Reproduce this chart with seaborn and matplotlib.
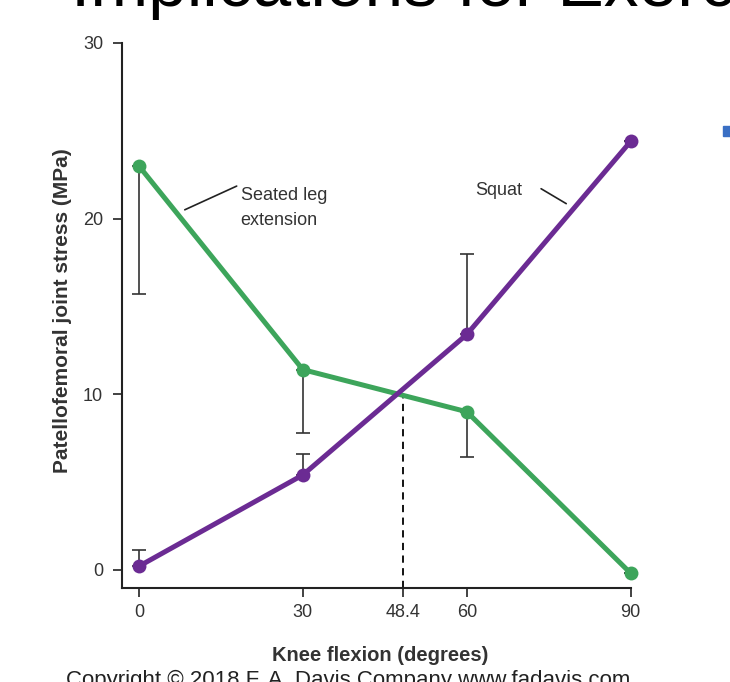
import matplotlib
matplotlib.use("Agg")
import matplotlib.pyplot as plt
import seaborn as sns
import pandas as pd
from matplotlib.patches import Rectangle

# knee flexion angles (degrees)
angles = [0, 30, 60, 90]

# patellofemoral joint stress (MPa)
leg_ext = [23.0, 11.4, 9.0, -0.2]
leg_ext_err = [7.3, 3.6, 2.6, 0.0]      # bars drawn downward
squat = [0.2, 5.4, 13.4, 24.4]
squat_err = [0.9, 1.2, 4.6, 0.0]        # bars drawn upward

crossover = 48.4
cross_stress = 10.0

x_ticks = [0, 30, 48.4, 60, 90]
x_tick_labels = ["0", "30", "48.4", "60", "90"]
y_ticks = [0, 10, 20, 30]

green = "#3da55b"
purple = "#6b2b93"
ink = "#333333"

df = pd.DataFrame({
    "angle": angles * 2,
    "stress": leg_ext + squat,
    "exercise": ["Seated leg extension"] * 4 + ["Squat"] * 4,
})

sns.set_style("ticks")
plt.rcParams["font.family"] = ["Liberation Sans", "DejaVu Sans"]

fig = plt.figure(figsize=(7.3, 6.82), dpi=100)
ax = fig.add_axes([0.167, 0.138, 0.697, 0.799])

# error bars (one-sided), drawn under the lines
ax.errorbar(angles, leg_ext, yerr=[leg_ext_err, [0] * 4], fmt="none",
            ecolor=ink, elinewidth=1.2, capsize=5, capthick=1.2, zorder=1)
ax.errorbar(angles, squat, yerr=[[0] * 4, squat_err], fmt="none",
            ecolor=ink, elinewidth=1.2, capsize=5, capthick=1.2, zorder=1)

sns.lineplot(data=df, x="angle", y="stress", hue="exercise",
             palette={"Seated leg extension": green, "Squat": purple},
             marker="o", markersize=10, markeredgewidth=0, linewidth=3.6,
             legend=False, ax=ax, zorder=3)
for ln in ax.lines:
    ln.set_clip_on(False)

# crossover point
ax.plot([crossover, crossover], [-1.03, cross_stress], color="black",
        linestyle=(0, (4, 3)), linewidth=1.3, zorder=2)

ax.set_xlim(-3.1, 90)
ax.set_ylim(-1.03, 30)
ax.set_xticks(x_ticks)
ax.set_xticklabels(x_tick_labels)
ax.set_yticks(y_ticks)
ax.tick_params(axis="both", labelsize=13, length=6.5, width=1.2, pad=5,
               colors="#222222", labelcolor=ink)
ax.tick_params(axis="y", pad=7)
for s in ["top", "right"]:
    ax.spines[s].set_visible(False)
for s in ["left", "bottom"]:
    ax.spines[s].set_linewidth(1.5)
    ax.spines[s].set_color("#222222")

ax.set_xlabel("Knee flexion (degrees)", fontsize=14.5, fontweight="bold",
              color=ink)
ax.xaxis.set_label_coords(0.507, -0.107)
ax.set_ylabel("Patellofemoral joint stress (MPa)", fontsize=15,
              fontweight="bold", color=ink)
ax.yaxis.set_label_coords(-0.099, 0.508)

# labels with leader lines
ax.text(18.6, 21.3, "Seated leg", fontsize=13, color=ink, va="center", ha="left")
ax.text(18.6, 19.9, "extension", fontsize=13, color=ink, va="center", ha="left")
ax.plot([17.9, 8.4], [21.85, 20.5], color="#222222", lw=1.2)
ax.text(61.5, 21.6, "Squat", fontsize=13, color=ink, va="center", ha="left")
ax.plot([73.6, 78.2], [21.7, 20.85], color="#222222", lw=1.2)

# slide fragments around the chart
fig.text(0.097, 0.991, "Implications for Exercise", fontsize=50,
         color="black", va="baseline", ha="left")
fig.text(0.09, -0.006, "Copyright \u00a9 2018 F. A. Davis Company www.fadavis.com",
         fontsize=16, color="#222222", va="baseline", ha="left")
fig.patches.append(Rectangle((0.99, 0.80), 0.012, 0.015,
                             transform=fig.transFigure, color="#3a6fc4"))

fig.savefig("out.png", dpi=100)
